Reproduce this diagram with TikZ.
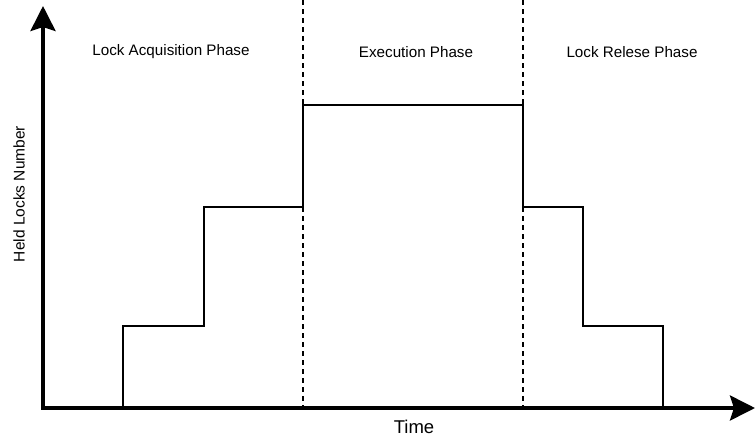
\documentclass[tikz,border=0pt]{standalone}
\usepackage{fontspec}
\setmainfont{Liberation Sans}
\usetikzlibrary{arrows.meta}
\begin{document}
\begin{tikzpicture}[x=1pt,y=-1pt,
  axis/.style={line width=3.6pt,-{Stealth[length=25pt,width=25pt,inset=4pt]}},
  stepline/.style={line width=1.8pt,line join=miter},
  phaseline/.style={line width=1.4pt,dash pattern=on 5pt off 4pt},
  phaselabel/.style={font=\fontsize{15.2}{18}\selectfont,inner sep=0pt}]
  \useasboundingbox (0,0) rectangle (755,439);

  % axes
  \coordinate (origin) at (43,408);
  \coordinate (ytip) at (43,6);
  \coordinate (xtip) at (755,408);
  \draw[axis] (origin) -- (ytip);
  \draw[axis] ([xshift=-1.8pt]origin) -- (xtip);

  % phase boundaries
  \coordinate (b1top) at (303,0);
  \coordinate (b1bot) at (303,408);
  \coordinate (b2top) at (523,0);
  \coordinate (b2bot) at (523,408);
  \draw[phaseline] (b1top) -- (b1bot);
  \draw[phaseline] (b2top) -- (b2bot);

  % number of held locks over time
  \coordinate (s0) at (123,408);
  \coordinate (s1) at (123,326);
  \coordinate (s2) at (204,326);
  \coordinate (s3) at (204,207);
  \coordinate (s4) at (303,207);
  \coordinate (s5) at (303,105);
  \coordinate (s6) at (523,105);
  \coordinate (s7) at (523,207);
  \coordinate (s8) at (583,207);
  \coordinate (s9) at (583,326);
  \coordinate (s10) at (663,326);
  \coordinate (s11) at (663,408);
  \draw[stepline] (s0) -- (s1) -- (s2) -- (s3) -- (s4) -- (s5) -- (s6)
    -- (s7) -- (s8) -- (s9) -- (s10) -- (s11);

  % labels
  \node[phaselabel] (acq) at (171,52) {Lock Acquisition Phase};
  \node[phaselabel] (exe) at (416,52) {Execution Phase};
  \node[phaselabel] (rel) at (632,52) {Lock Relese Phase};
  \node[font=\fontsize{18.5}{21}\selectfont,inner sep=0pt] (xlabel) at (414,427) {Time};
  \node[font=\fontsize{15.5}{18}\selectfont,inner sep=0pt,rotate=90] (ylabel) at (19,194) {Held Locks Number};
\end{tikzpicture}
\end{document}
